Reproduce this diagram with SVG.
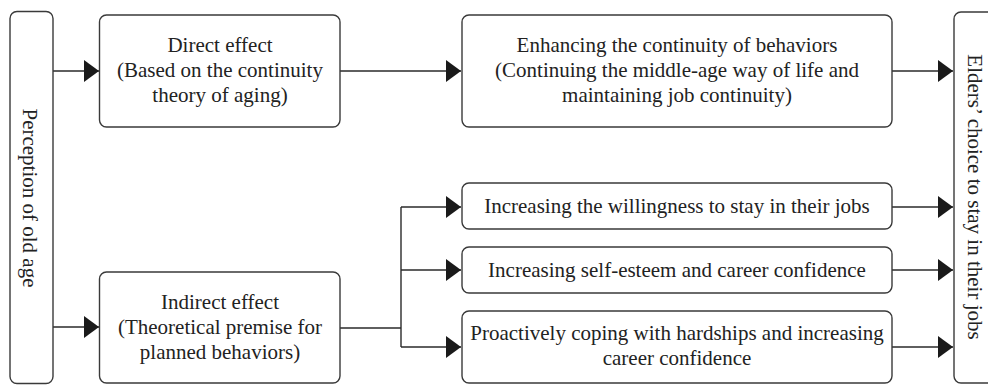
<svg xmlns="http://www.w3.org/2000/svg" width="988" height="386" viewBox="0 0 988 386">
<defs>
<style>
.box{fill:#fff;stroke:#3a3a3a;stroke-width:1.4}
.t{font-size:21px;fill:#222;text-anchor:middle}
.c{fill:none;stroke:#2a2a2a;stroke-width:1.4}
</style>
<marker id="ah" markerUnits="userSpaceOnUse" markerWidth="16" markerHeight="22" refX="15" refY="11" orient="auto">
<path d="M0,0 L15,11 L0,22 Z" fill="#1a1a1a"/>
</marker>
</defs>
<rect width="988" height="386" fill="#fff"/>
<g id="connectors">
<path class="c" d="M53,71 H99" marker-end="url(#ah)"/>
<path class="c" d="M53,327 H99" marker-end="url(#ah)"/>
<path class="c" d="M340,71 H461" marker-end="url(#ah)"/>
<path class="c" d="M892,71 H953" marker-end="url(#ah)"/>
<path class="c" d="M340,328 H401"/>
<path class="c" d="M401,207 V347"/>
<path class="c" d="M401,207 H461" marker-end="url(#ah)"/>
<path class="c" d="M401,270 H461" marker-end="url(#ah)"/>
<path class="c" d="M401,347 H461" marker-end="url(#ah)"/>
<path class="c" d="M892,207 H953" marker-end="url(#ah)"/>
<path class="c" d="M892,270 H953" marker-end="url(#ah)"/>
<path class="c" d="M892,347 H953" marker-end="url(#ah)"/>
</g>
<g font-family="Liberation Serif, DejaVu Serif, serif">
<g id="perception">
<rect class="box" x="10" y="11.5" width="43" height="372" rx="7"/>
<text class="t" transform="translate(23,198) rotate(90)">Perception of old age</text>
</g>
<g id="direct">
<rect class="box" x="99.5" y="15" width="240.5" height="112" rx="7"/>
<text class="t" x="220" y="52">Direct effect</text>
<text class="t" x="220" y="77">(Based on the continuity</text>
<text class="t" x="220" y="102">theory of aging)</text>
</g>
<g id="indirect">
<rect class="box" x="99.5" y="272" width="240.5" height="111" rx="7"/>
<text class="t" x="220" y="309">Indirect effect</text>
<text class="t" x="220" y="334">(Theoretical premise for</text>
<text class="t" x="220" y="359">planned behaviors)</text>
</g>
<g id="enhancing">
<rect class="box" x="462" y="15" width="430" height="112" rx="7"/>
<text class="t" x="677" y="52">Enhancing the continuity of behaviors</text>
<text class="t" x="677" y="77">(Continuing the middle-age way of life and</text>
<text class="t" x="677" y="102">maintaining job continuity)</text>
</g>
<g id="willingness">
<rect class="box" x="462" y="183" width="430" height="46" rx="7"/>
<text class="t" x="677" y="213">Increasing the willingness to stay in their jobs</text>
</g>
<g id="selfesteem">
<rect class="box" x="462" y="247" width="430" height="46" rx="7"/>
<text class="t" x="677" y="277">Increasing self-esteem and career confidence</text>
</g>
<g id="coping">
<rect class="box" x="462" y="311" width="430" height="72" rx="7"/>
<text class="t" x="677" y="340">Proactively coping with hardships and increasing</text>
<text class="t" x="677" y="365">career confidence</text>
</g>
<g id="elders">
<rect class="box" x="954" y="12" width="60" height="371" rx="7"/>
<text class="t" transform="translate(968,197) rotate(90)">Elders’ choice to stay in their jobs</text>
</g>
</g>
</svg>
